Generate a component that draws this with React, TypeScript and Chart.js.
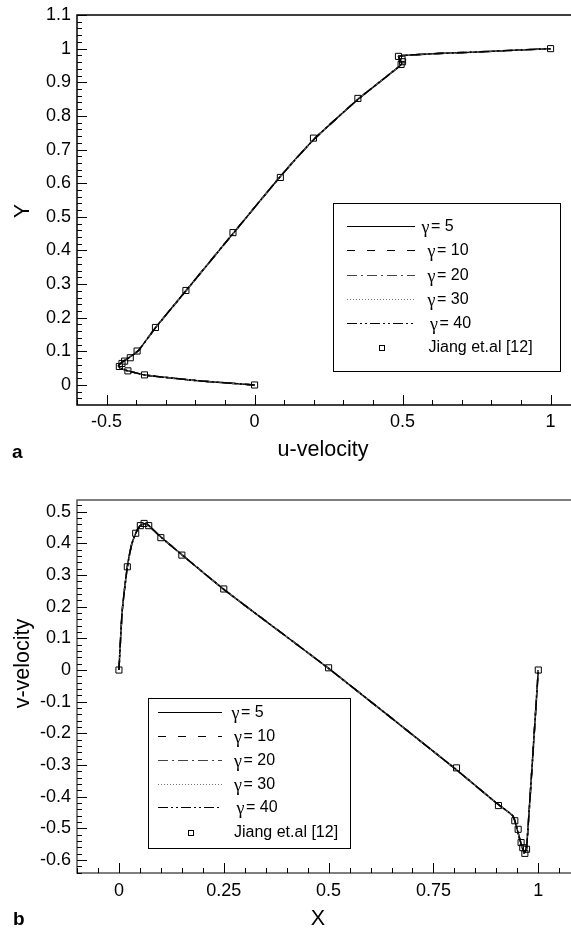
import { useEffect, useRef } from "react";
import { Chart, registerables } from "chart.js";

Chart.register(...registerables);

// ---------- shared ----------
const gammaValues = [5, 10, 20, 30, 40];
const jiangLabel = "Jiang et.al [12]";

// ---------- panel a : u-velocity along vertical centreline ----------
const aSolU = [0, -0.183, -0.296, -0.372, -0.428, -0.455, -0.46, -0.45, -0.435, -0.41, -0.39, -0.335, -0.232, -0.073, 0.087, 0.2, 0.35, 0.45, 0.497, 0.487, 0.75, 1.0];
const aSolY = [0, 0.012, 0.022, 0.03, 0.042, 0.05, 0.057, 0.066, 0.075, 0.09, 0.105, 0.17, 0.28, 0.45, 0.62, 0.73, 0.85, 0.92, 0.955, 0.978, 0.99, 1.0];
const aJiangU = [0, -0.372, -0.428, -0.457, -0.448, -0.439, -0.42, -0.397, -0.335, -0.232, -0.073, 0.087, 0.199, 0.349, 0.495, 0.5, 0.498, 0.486, 1.0];
const aJiangY = [0, 0.03, 0.042, 0.055, 0.064, 0.071, 0.081, 0.101, 0.171, 0.281, 0.453, 0.617, 0.734, 0.852, 0.953, 0.961, 0.969, 0.977, 1.0];
const aTicksX = [-0.5, 0, 0.5, 1];
const aTicksY = [0, 0.1, 0.2, 0.3, 0.4, 0.5, 0.6, 0.7, 0.8, 0.9, 1, 1.1];

// ---------- panel b : v-velocity along horizontal centreline ----------
const bSolX = [0, 0.0033, 0.008, 0.02, 0.03, 0.04, 0.05, 0.06, 0.068, 0.1, 0.25, 0.5, 0.8, 0.9, 0.94, 0.955, 0.966, 0.972, 1.0];
const bSolV = [0, 0.084, 0.19, 0.326, 0.395, 0.432, 0.455, 0.462, 0.46, 0.42, 0.255, 0.005, -0.31, -0.42, -0.462, -0.53, -0.578, -0.565, 0];
const bJiangX = [0, 0.02, 0.04, 0.051, 0.06, 0.071, 0.1, 0.15, 0.25, 0.5, 0.805, 0.905, 0.944, 0.952, 0.959, 0.963, 0.968, 0.972, 1.0];
const bJiangV = [0, 0.326, 0.432, 0.456, 0.463, 0.456, 0.418, 0.363, 0.256, 0.007, -0.309, -0.428, -0.476, -0.503, -0.545, -0.561, -0.579, -0.566, 0];
const bTicksX = [0, 0.25, 0.5, 0.75, 1];
const bTicksY = [-0.6, -0.5, -0.4, -0.3, -0.2, -0.1, 0, 0.1, 0.2, 0.3, 0.4, 0.5];

// ---------- styles ----------
const SANS = "'Liberation Sans', Arial, Helvetica, sans-serif";
const SERIF = "'Liberation Serif', 'Times New Roman', serif";
const gammaStyles = [
  { color: "#000000", dash: [] as number[] },
  { color: "#000000", dash: [8, 12] },
  { color: "#444444", dash: [10, 4, 2, 4] },
  { color: "#777777", dash: [1, 2] },
  { color: "#000000", dash: [10, 3, 2, 3, 2, 3] },
];

type Panel = {
  w: number;
  h: number;
  padTop: number;
  yAxisW: number;
  xAxisH: number;
  xMin: number;
  xMax: number;
  yMin: number;
  yMax: number;
  xTicks: number[];
  yTicks: number[];
  xMinor: number;
  yMinor: number;
  xLabelPad: number;
  solX: number[];
  solY: number[];
  ptX: number[];
  ptY: number[];
  xTitle: string;
  xTitlePos: [number, number];
  yTitle: string;
  yTitlePos: [number, number];
  letter: string;
  letterPos: [number, number];
  legendBox: [number, number, number, number];
  legendRowY: number[];
  legendSample: [number, number];
  legendTextX: number[];
  legendMarkerX: number;
  axisColor: string;
};

function makeOverlay(p: Panel) {
  return {
    id: "overlay",
    afterDraw(chart: any) {
      const ctx: CanvasRenderingContext2D = chart.ctx;
      const ca = chart.chartArea;
      const xs = chart.scales.x;
      const ys = chart.scales.y;
      ctx.save();
      // frame (left, top, bottom)
      ctx.strokeStyle = p.axisColor;
      ctx.lineWidth = 1.5;
      ctx.beginPath();
      ctx.moveTo(p.w + 2, ca.top);
      ctx.lineTo(ca.left, ca.top);
      ctx.lineTo(ca.left, ca.bottom);
      ctx.lineTo(p.w + 2, ca.bottom);
      ctx.stroke();
      ctx.strokeStyle = "#000";
      // major ticks inward
      ctx.lineWidth = 1;
      ctx.beginPath();
      for (const v of p.xTicks) {
        const px = Math.round(xs.getPixelForValue(v)) + 0.5;
        ctx.moveTo(px, ca.bottom);
        ctx.lineTo(px, ca.bottom - 10);
      }
      for (const v of p.yTicks) {
        const py = Math.round(ys.getPixelForValue(v)) + 0.5;
        ctx.moveTo(ca.left, py);
        ctx.lineTo(ca.left + 10, py);
      }
      // minor ticks
      const isMajor = (v: number, arr: number[]) => arr.some((m) => Math.abs(m - v) < 1e-6);
      for (let k = Math.ceil(p.xMin / p.xMinor - 1e-9); k * p.xMinor <= p.xMax + 1e-9; k++) {
        const v = k * p.xMinor;
        if (isMajor(v, p.xTicks)) continue;
        const px = Math.round(xs.getPixelForValue(v)) + 0.5;
        ctx.moveTo(px, ca.bottom);
        ctx.lineTo(px, ca.bottom - 5);
      }
      for (let k = Math.ceil(p.yMin / p.yMinor - 1e-9); k * p.yMinor <= p.yMax + 1e-9; k++) {
        const v = k * p.yMinor;
        if (isMajor(v, p.yTicks)) continue;
        const py = Math.round(ys.getPixelForValue(v)) + 0.5;
        ctx.moveTo(ca.left, py);
        ctx.lineTo(ca.left + 5, py);
      }
      ctx.stroke();

      // axis titles
      ctx.fillStyle = "#000";
      ctx.font = `21.5px ${SANS}`;
      ctx.textAlign = "center";
      ctx.textBaseline = "alphabetic";
      ctx.fillText(p.xTitle, p.xTitlePos[0], p.xTitlePos[1]);
      ctx.save();
      ctx.translate(p.yTitlePos[0], p.yTitlePos[1]);
      ctx.rotate(-Math.PI / 2);
      ctx.textBaseline = "middle";
      ctx.fillText(p.yTitle, 0, 0);
      ctx.restore();

      // panel letter
      ctx.font = `bold 19px ${SANS}`;
      ctx.textAlign = "left";
      ctx.fillText(p.letter, p.letterPos[0], p.letterPos[1]);

      // legend
      const [bx1, by1, bx2, by2] = p.legendBox;
      ctx.fillStyle = "#fff";
      ctx.fillRect(bx1, by1, bx2 - bx1, by2 - by1);
      ctx.strokeStyle = "#000";
      ctx.lineWidth = 1;
      ctx.strokeRect(bx1 + 0.5, by1 + 0.5, bx2 - bx1, by2 - by1);
      gammaValues.forEach((g, i) => {
        const y = Math.round(p.legendRowY[i]) + 0.5;
        const st = gammaStyles[i];
        ctx.strokeStyle = st.color;
        ctx.lineWidth = 1.2;
        ctx.setLineDash(st.dash);
        ctx.beginPath();
        ctx.moveTo(p.legendSample[0], y);
        ctx.lineTo(p.legendSample[1], y);
        ctx.stroke();
        ctx.setLineDash([]);
        ctx.fillStyle = "#000";
        ctx.textBaseline = "middle";
        ctx.textAlign = "left";
        ctx.font = `18px ${SERIF}`;
        const tx = p.legendTextX[i];
        ctx.fillText("\u03b3", tx, y + 2);
        const gw = ctx.measureText("\u03b3").width;
        ctx.font = `16px ${SANS}`;
        ctx.fillText("= " + g, tx + gw + 1.5, y);
      });
      const jy = Math.round(p.legendRowY[5]) + 0.5;
      ctx.strokeStyle = "#000";
      ctx.lineWidth = 1;
      ctx.strokeRect(Math.round(p.legendMarkerX - 2.5) + 0.5, Math.round(jy - 3) + 0.5, 5, 5);
      ctx.fillStyle = "#000";
      ctx.font = `16px ${SANS}`;
      ctx.textBaseline = "middle";
      ctx.fillText(jiangLabel, p.legendTextX[5], jy);
      ctx.restore();
    },
  };
}

function buildConfig(p: Panel): any {
  const sol = p.solX.map((x, i) => ({ x, y: p.solY[i] }));
  const pts = p.ptX.map((x, i) => ({ x, y: p.ptY[i] }));
  const datasets: any[] = gammaValues.map((g, i) => ({
    label: "\u03b3 = " + g,
    data: sol,
    showLine: true,
    borderColor: gammaStyles[i].color,
    borderDash: gammaStyles[i].dash,
    borderWidth: 1.5,
    pointRadius: 0,
    tension: 0.15,
    order: 5 - i,
  }));
  datasets.push({
    label: jiangLabel,
    data: pts,
    showLine: false,
    pointStyle: "rect",
    pointRadius: 4.3,
    pointBorderWidth: 1,
    pointBorderColor: "#000",
    pointBackgroundColor: "rgba(0,0,0,0)",
    order: 0,
  });
  const tickFont = { family: SANS, size: 18 };
  const fmt = (v: number) => String(Math.round(v * 100) / 100);
  return {
    type: "scatter",
    data: { datasets },
    options: {
      animation: false,
      responsive: false,
      maintainAspectRatio: false,
      devicePixelRatio: 1,
      layout: { autoPadding: false, padding: { top: p.padTop, left: 0, right: 0, bottom: 0 } },
      plugins: { legend: { display: false }, tooltip: { enabled: false } },
      scales: {
        x: {
          type: "linear",
          min: p.xMin,
          max: p.xMax,
          grid: { display: false, drawTicks: false },
          border: { display: false },
          afterBuildTicks: (s: any) => {
            s.ticks = p.xTicks.map((v) => ({ value: v }));
          },
          afterFit: (s: any) => {
            s.height = p.xAxisH;
            s.paddingLeft = 0;
            s.paddingRight = 0;
          },
          ticks: {
            autoSkip: false,
            maxRotation: 0,
            padding: p.xLabelPad,
            color: "#000",
            font: tickFont,
            callback: fmt,
          },
        },
        y: {
          type: "linear",
          min: p.yMin,
          max: p.yMax,
          grid: { display: false, drawTicks: false },
          border: { display: false },
          afterBuildTicks: (s: any) => {
            s.ticks = p.yTicks.map((v) => ({ value: v }));
          },
          afterFit: (s: any) => {
            s.width = p.yAxisW;
            s.paddingTop = 0;
            s.paddingBottom = 0;
          },
          ticks: {
            autoSkip: false,
            padding: 6,
            color: "#000",
            font: tickFont,
            callback: fmt,
          },
        },
      },
    },
    plugins: [makeOverlay(p)],
  };
}

const panelA: Panel = {
  w: 571,
  h: 465,
  padTop: 15,
  yAxisW: 77,
  xAxisH: 60,
  xMin: -0.6,
  xMax: 1.069,
  yMin: -0.0595,
  yMax: 1.1,
  xTicks: aTicksX,
  yTicks: aTicksY,
  xMinor: 0.1,
  yMinor: 0.02,
  xLabelPad: 6,
  solX: aSolU,
  solY: aSolY,
  ptX: aJiangU,
  ptY: aJiangY,
  xTitle: "u-velocity",
  xTitlePos: [323, 456],
  yTitle: "Y",
  yTitlePos: [23, 211],
  letter: "a",
  letterPos: [12, 458],
  legendBox: [333, 203, 560, 371],
  legendRowY: [225.5, 250, 274.5, 298.5, 322.5, 347],
  legendSample: [347, 415],
  legendTextX: [421.5, 427.5, 427.5, 427.5, 430, 428.5],
  legendMarkerX: 381,
  axisColor: "#000",
};

const panelB: Panel = {
  w: 571,
  h: 466,
  padTop: 35,
  yAxisW: 77,
  xAxisH: 58,
  xMin: -0.1,
  xMax: 1.078,
  yMin: -0.641,
  yMax: 0.537,
  xTicks: bTicksX,
  yTicks: bTicksY,
  xMinor: 0.05,
  yMinor: 0.02,
  xLabelPad: 7,
  solX: bSolX,
  solY: bSolV,
  ptX: bJiangX,
  ptY: bJiangV,
  xTitle: "X",
  xTitlePos: [318, 460],
  yTitle: "v-velocity",
  yTitlePos: [23.5, 198.5],
  letter: "b",
  letterPos: [13, 460],
  legendBox: [148, 233, 350, 383],
  legendRowY: [246.5, 271, 294.5, 318.5, 342, 366.5],
  legendSample: [158, 222],
  legendTextX: [231.5, 234, 234, 234, 236.5, 234],
  legendMarkerX: 190.5,
  axisColor: "#555",
};

function PanelChart({ p, top }: { p: Panel; top: number }) {
  const ref = useRef<HTMLCanvasElement | null>(null);
  useEffect(() => {
    if (!ref.current) return;
    const chart = new Chart(ref.current, buildConfig(p));
    return () => chart.destroy();
  }, [p]);
  return (
    <canvas
      ref={ref}
      width={p.w}
      height={p.h}
      style={{ position: "absolute", left: 0, top, width: p.w, height: p.h, display: "block" }}
    />
  );
}

export default function App() {
  return (
    <div
      style={{
        position: "absolute",
        left: 0,
        top: 0,
        width: 571,
        height: 931,
        overflow: "hidden",
        background: "#fff",
      }}
    >
      <PanelChart p={panelA} top={0} />
      <PanelChart p={panelB} top={465} />
    </div>
  );
}
